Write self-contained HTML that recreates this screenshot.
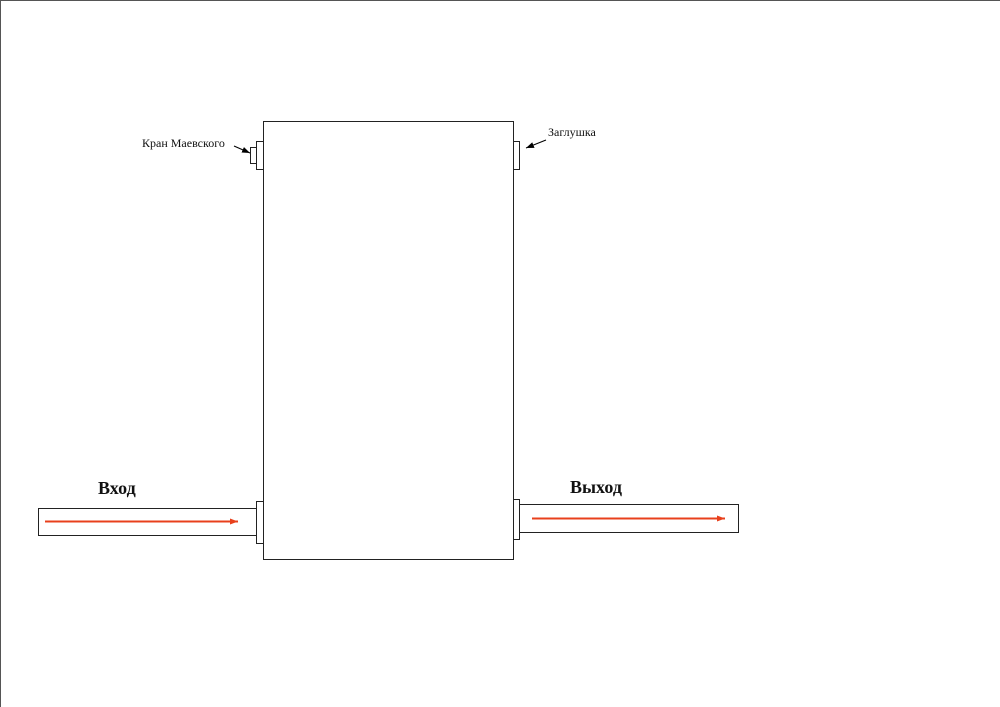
<!DOCTYPE html>
<html><head><meta charset="utf-8"><style>
html,body{margin:0;padding:0;background:#fff;}
svg{display:block;}
</style></head><body>
<svg width="1000" height="707" viewBox="0 0 1000 707" xmlns="http://www.w3.org/2000/svg">
<defs>
<marker id="r" markerWidth="8" markerHeight="6" refX="8" refY="3" orient="auto" markerUnits="userSpaceOnUse"><path d="M0,0 L8,3 L0,6 z" fill="#e8401c"/></marker>
<marker id="b" markerWidth="8" markerHeight="6" refX="8" refY="3" orient="auto" markerUnits="userSpaceOnUse"><path d="M0,0 L8,3 L0,6 z" fill="#000"/></marker>
</defs>
<line x1="0" y1="0.5" x2="1000" y2="0.5" stroke="#555" stroke-width="1"/>
<line x1="0.5" y1="0" x2="0.5" y2="707" stroke="#555" stroke-width="1"/>
<g fill="#fff" stroke="#222" stroke-width="1">
<rect x="263.5" y="121.5" width="250" height="438"/>
<rect x="256.5" y="141.5" width="7" height="28"/>
<rect x="250.5" y="147.5" width="6" height="16"/>
<rect x="513.5" y="141.5" width="6" height="28"/>
<rect x="38.5" y="508.5" width="218" height="27"/>
<rect x="256.5" y="501.5" width="7" height="42"/>
<rect x="513.5" y="499.5" width="6" height="40"/>
<rect x="519.5" y="504.5" width="219" height="28"/>
</g>
<line x1="45" y1="521.5" x2="238" y2="521.5" stroke="#e8401c" stroke-width="2" marker-end="url(#r)"/>
<line x1="532" y1="518.5" x2="725" y2="518.5" stroke="#e8401c" stroke-width="2" marker-end="url(#r)"/>
<line x1="234" y1="146" x2="250" y2="153" stroke="#000" stroke-width="1" marker-end="url(#b)"/>
<line x1="546" y1="140" x2="526" y2="148" stroke="#000" stroke-width="1" marker-end="url(#b)"/>
<g font-family="Liberation Serif, serif" fill="#111">
<text x="142" y="147" font-size="12">Кран Маевского</text>
<text x="548" y="136" font-size="12">Заглушка</text>
<text x="98" y="494" font-size="18" font-weight="bold">Вход</text>
<text x="570" y="493" font-size="18" font-weight="bold">Выход</text>
</g>
</svg>
</body></html>
